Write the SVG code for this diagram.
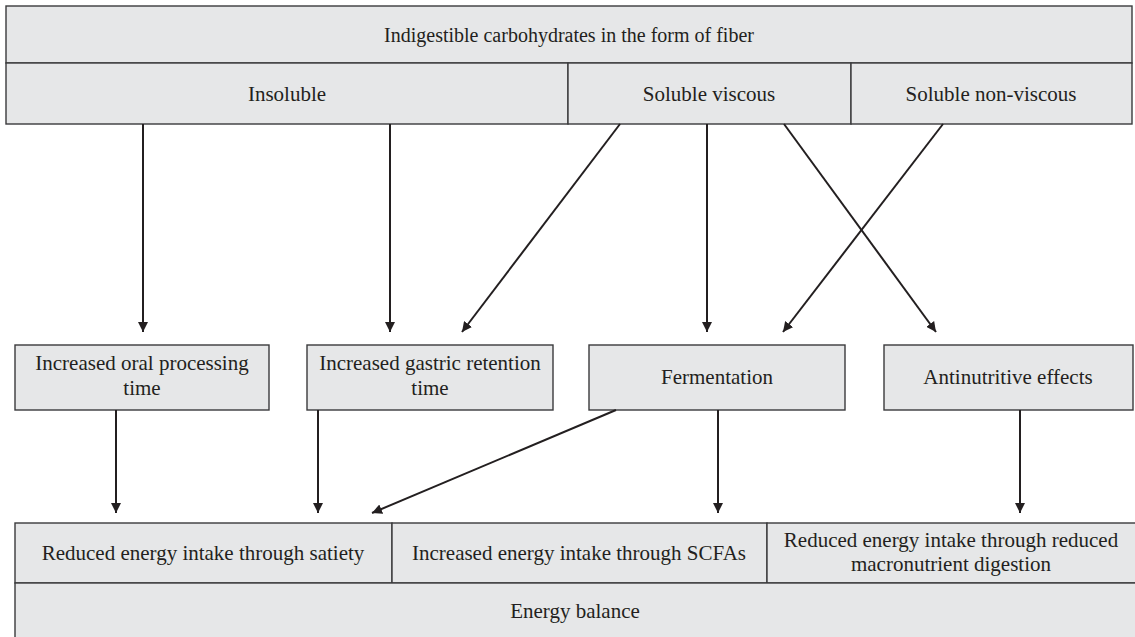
<svg xmlns="http://www.w3.org/2000/svg" width="1135" height="637" viewBox="0 0 1135 637">
<style>
.box{fill:#e6e7e8;stroke:#3a3a3c;stroke-width:1.4}
.t{font-family:"Liberation Serif","Times New Roman",serif;font-size:21px;fill:#231f20;text-anchor:middle}
.c{stroke:#231f20;stroke-width:2;fill:none;marker-end:url(#ah)}
</style>
<defs>
<marker id="ah" viewBox="0 0 10 10" refX="10" refY="5" markerWidth="5" markerHeight="5" orient="auto" markerUnits="strokeWidth">
<path d="M0,0 L10,5 L0,10 z" fill="#231f20"/>
</marker>
</defs>
<rect width="1135" height="637" fill="#ffffff"/>
<g id="top">
<rect class="box" x="6" y="6" width="1126" height="57"/>
<text class="t" x="569" y="42" style="font-size:20px">Indigestible carbohydrates in the form of fiber</text>
</g>
<g id="insoluble">
<rect class="box" x="6" y="63" width="562" height="61"/>
<text class="t" x="287" y="101">Insoluble</text>
</g>
<g id="soluble-viscous">
<rect class="box" x="568" y="63" width="283" height="61"/>
<text class="t" x="709" y="101">Soluble viscous</text>
</g>
<g id="soluble-nonviscous">
<rect class="box" x="851" y="63" width="281" height="61"/>
<text class="t" x="991" y="101">Soluble non-viscous</text>
</g>
<g id="oral">
<rect class="box" x="15" y="345" width="254" height="65"/>
<text class="t" x="142" y="370">Increased oral processing</text>
<text class="t" x="142" y="395">time</text>
</g>
<g id="gastric">
<rect class="box" x="307" y="345" width="246" height="65"/>
<text class="t" x="430" y="370">Increased gastric retention</text>
<text class="t" x="430" y="395">time</text>
</g>
<g id="fermentation">
<rect class="box" x="589" y="345" width="256" height="65"/>
<text class="t" x="717" y="384">Fermentation</text>
</g>
<g id="antinutritive">
<rect class="box" x="884" y="345" width="249" height="65"/>
<text class="t" x="1008" y="384">Antinutritive effects</text>
</g>
<g id="satiety">
<rect class="box" x="15" y="523" width="377" height="60"/>
<text class="t" x="203" y="560">Reduced energy intake through satiety</text>
</g>
<g id="scfa">
<rect class="box" x="392" y="523" width="375" height="60"/>
<text class="t" x="579" y="560">Increased energy intake through SCFAs</text>
</g>
<g id="macronutrient">
<rect class="box" x="767" y="523" width="370" height="60"/>
<text class="t" x="951" y="547">Reduced energy intake through reduced</text>
<text class="t" x="951" y="571">macronutrient digestion</text>
</g>
<g id="energy-balance">
<rect class="box" x="15" y="583" width="1122" height="58"/>
<text class="t" x="575" y="618">Energy balance</text>
</g>
<g id="connectors">
<line class="c" x1="143" y1="124" x2="143" y2="332"/>
<line class="c" x1="390" y1="124" x2="390" y2="332"/>
<line class="c" x1="620" y1="124" x2="462" y2="332"/>
<line class="c" x1="707" y1="124" x2="707" y2="332"/>
<line class="c" x1="784" y1="124" x2="936" y2="332"/>
<line class="c" x1="943" y1="124" x2="783" y2="332"/>
<line class="c" x1="116" y1="410" x2="116" y2="513"/>
<line class="c" x1="318" y1="410" x2="318" y2="513"/>
<line class="c" x1="616" y1="410" x2="372" y2="513"/>
<line class="c" x1="718" y1="410" x2="718" y2="513"/>
<line class="c" x1="1020" y1="410" x2="1020" y2="513"/>
</g>
</svg>
